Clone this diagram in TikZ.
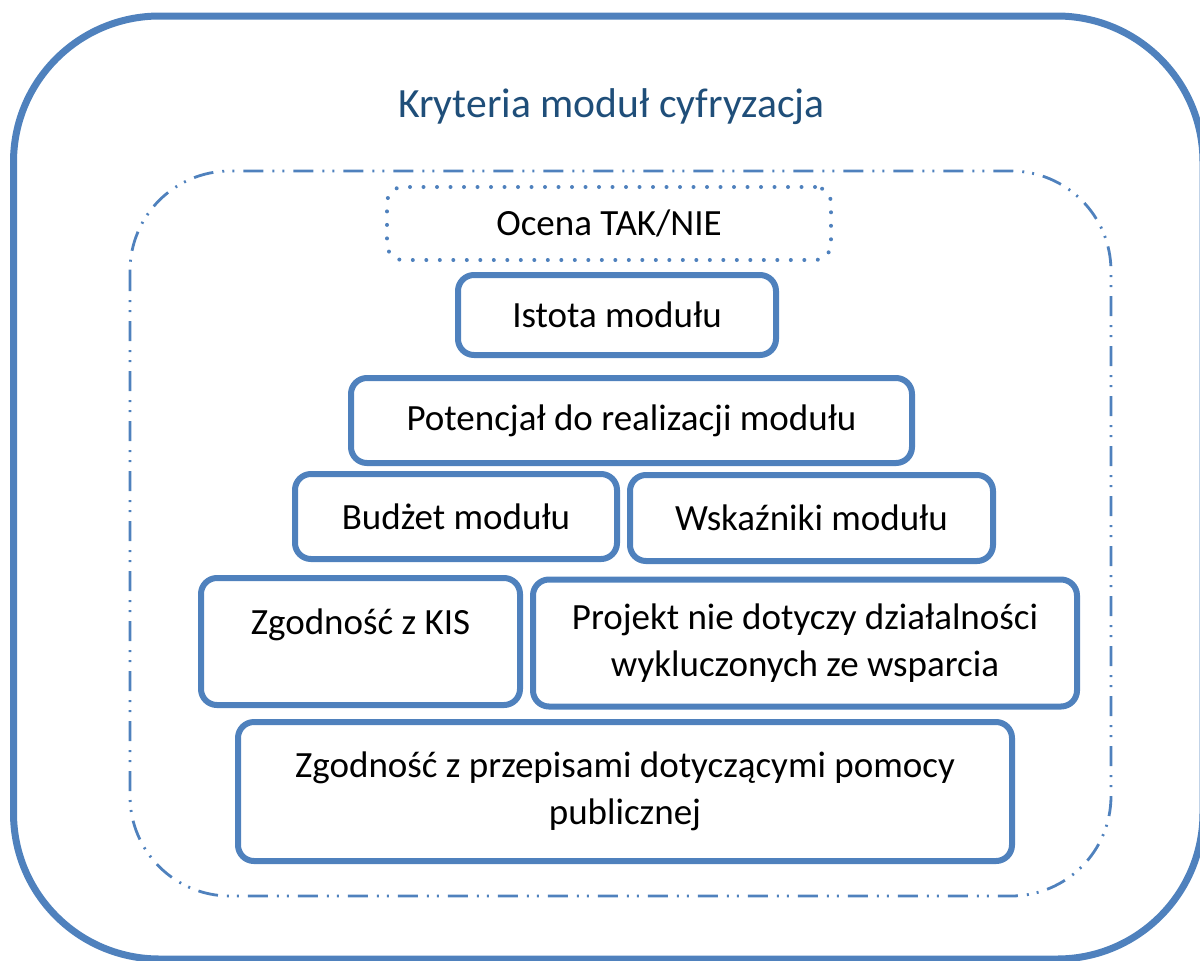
\documentclass[tikz,border=0pt]{standalone}
\usepackage{fontspec}
\setmainfont{Carlito}
\definecolor{ramka}{HTML}{4F81BD}
\definecolor{tytul}{HTML}{1F4E79}

\tikzset{
    kryterium/.style={draw=ramka, line width=3pt, rounded corners=8pt, align=center,
        inner sep=0pt, font=\fontsize{18.5}{23.5}\selectfont},
    kropki/.style={line width=2pt, line cap=round, dash pattern=on 0pt off 6.75pt},
    kreskakropka/.style={draw=ramka, line width=1.4pt,
        dash pattern=on 10pt off 4.5pt on 1pt off 4pt on 1pt off 4.5pt}
}

\begin{document}
\begin{tikzpicture}[x=0.5pt, y=-0.5pt]
        \useasboundingbox (0,0) rectangle (1200,960);

        % Ramka zewnetrzna i tytul
        \draw[draw=ramka, line width=3.5pt, rounded corners=73pt] (13.5,16) rectangle (1203,959);
        \node[anchor=base, text=tytul, font=\fontsize{20.8}{25}\selectfont](tytul) at (611.5,117) {Kryteria moduł cyfryzacja};

        % Ramka wewnetrzna (kreska-kropka-kropka)
        \draw[kreskakropka, rounded corners=50pt] (130,171) rectangle (1111,896);

        % Kryteria ulozone w piramide
        \node[kryterium, kropki, minimum width=222pt, minimum height=36.5pt](ocena) at (609,223.5) {Ocena TAK/NIE};
        \node[kryterium, minimum width=159pt, minimum height=40pt](istota) at (617,315) {Istota modułu};
        \node[kryterium, minimum width=280.5pt, minimum height=42.5pt](potencjal) at (631.5,420.5) {Potencjał do realizacji modułu};
        \node[kryterium, minimum width=161pt, minimum height=42.5pt](budzet) at (456,516.5) {Budżet modułu};
        \node[kryterium, minimum width=181.5pt, minimum height=43pt](wskazniki) at (811.5,518) {Wskaźniki modułu};
        \node[kryterium, minimum width=159.5pt, minimum height=63.5pt](kis) at (360.5,641.5) {Zgodność z KIS\\[-11pt]\strut};
        \node[kryterium, minimum width=272pt, minimum height=63.5pt](projekt) at (805,643) {Projekt nie dotyczy działalności\\wykluczonych ze wsparcia};
        \node[kryterium, minimum width=387pt, minimum height=69.5pt](przepisy) at (625,791.5) {Zgodność z przepisami dotyczącymi pomocy\\publicznej};
    \end{tikzpicture}
\end{document}
